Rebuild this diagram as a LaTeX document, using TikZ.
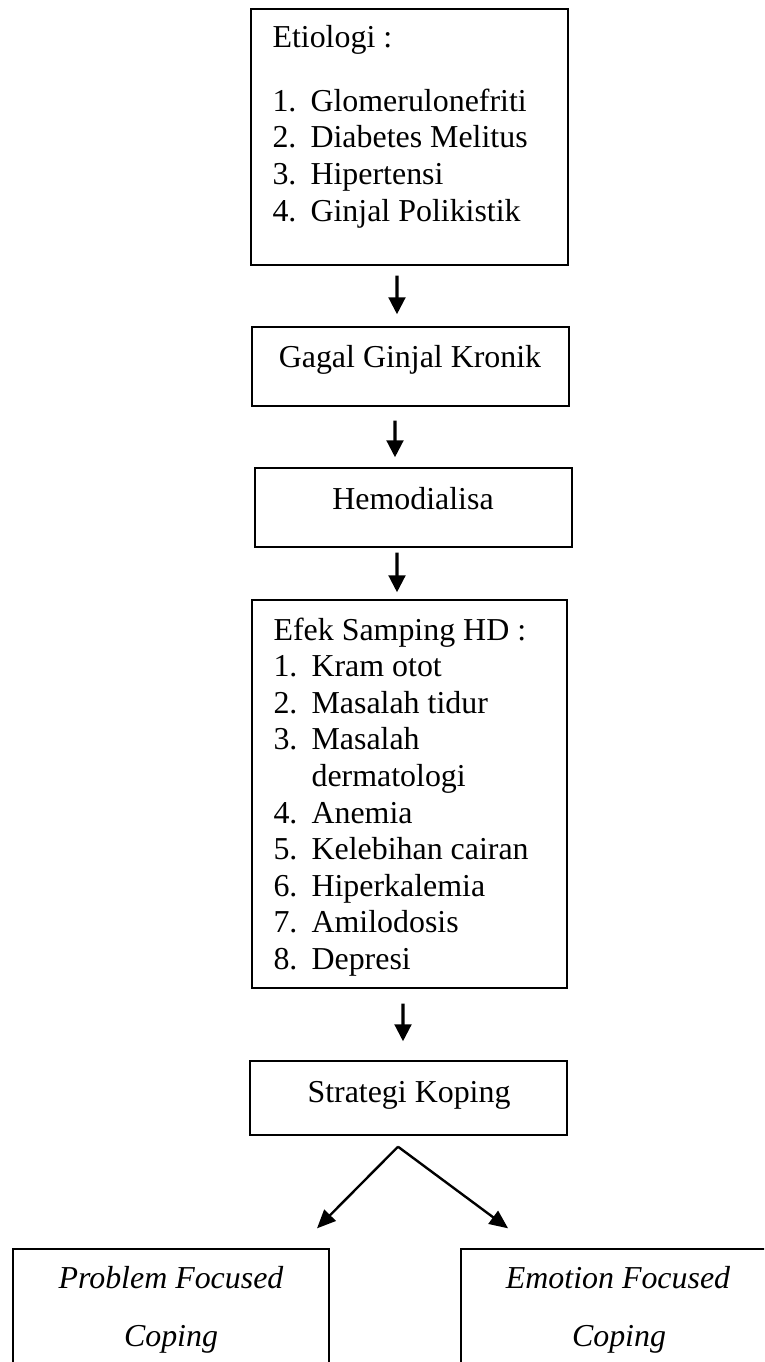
\documentclass[tikz,border=0pt]{standalone}
\usepackage{fontspec}
\setmainfont{Liberation Serif}
\usetikzlibrary{arrows.meta,fit}
\newcommand\itm[2]{\makebox[14.3pt][l]{#1}#2}
\begin{document}
\begin{tikzpicture}[x=0.376pt,y=-0.376pt,
  box/.style={draw,line width=0.5pt,inner sep=0pt},
  txt/.style={inner sep=0pt,font=\fontsize{12}{13.8}\selectfont},
  ltxt/.style={txt,anchor=base west},
  ctxt/.style={txt,anchor=base},
  varr/.style={line width=1.3pt,-{Triangle[length=6.4pt,width=6.2pt]}},
  darr/.style={line width=0.9pt,-{Triangle[length=7pt,width=6pt]}}]
\useasboundingbox (0,0) rectangle (764,1362);
\clip (0,0) rectangle (764,1362);
% boxes
\node[box,fit={(251,9) (568,265)}] (e) {};
\node[box,fit={(252,327) (569,406)}] (g) {};
\node[box,fit={(255,468) (572,547)}] (h) {};
\node[box,fit={(252,600) (567,988)}] (f) {};
\node[box,fit={(250,1061) (567,1135)}] (s) {};
\node[box,fit={(13,1249) (329,1400)}] (p) {};
\node[box,fit={(461,1249) (777,1400)}] (m) {};
% Etiologi text
\node[ltxt] (e0) at (272,47) {Etiologi :};
\node[ltxt] (e1) at (272,111) {\itm{1.}{Glomerulonefriti}};
\node[ltxt] (e2) at (272,147.8) {\itm{2.}{Diabetes Melitus}};
\node[ltxt] (e3) at (272,184.6) {\itm{3.}{Hipertensi}};
\node[ltxt] (e4) at (272,221.4) {\itm{4.}{Ginjal Polikistik}};
% single-line boxes
\node[ctxt] (gt) at (410,367) {Gagal Ginjal Kronik};
\node[ctxt] (ht) at (413,509) {Hemodialisa};
\node[ctxt] (st) at (409,1102) {Strategi Koping};
% Efek samping text
\node[ltxt] (f0) at (273,640) {Efek Samping HD :};
\node[ltxt] (f1) at (273,676.6) {\itm{1.}{Kram otot}};
\node[ltxt] (f2) at (273,713.2) {\itm{2.}{Masalah tidur}};
\node[ltxt] (f3) at (273,749.8) {\itm{3.}{Masalah}};
\node[ltxt] (f3b) at (273,786.4) {\itm{}{dermatologi}};
\node[ltxt] (f4) at (273,823) {\itm{4.}{Anemia}};
\node[ltxt] (f5) at (273,859.6) {\itm{5.}{Kelebihan cairan}};
\node[ltxt] (f6) at (273,896.2) {\itm{6.}{Hiperkalemia}};
\node[ltxt] (f7) at (273,932.8) {\itm{7.}{Amilodosis}};
\node[ltxt] (f8) at (273,969.4) {\itm{8.}{Depresi}};
% bottom boxes text
\node[ctxt] (p1) at (171,1288) {\itshape Problem Focused};
\node[ctxt] (p2) at (171,1346) {\itshape Coping};
\node[ctxt] (m1) at (618,1288) {\itshape Emotion Focused};
\node[ctxt] (m2) at (619,1346) {\itshape Coping};
% arrows
\draw[varr] ([xshift=-4.7pt,yshift=-3.76pt]e.south) -- ([xshift=-5.08pt,yshift=4.51pt]g.north);
\draw[varr] ([xshift=-5.83pt,yshift=-5.26pt]g.south) -- ([xshift=-6.96pt,yshift=3.76pt]h.north);
\draw[varr] ([xshift=-6.2pt,yshift=-1.88pt]h.south) -- ([xshift=-4.7pt,yshift=2.63pt]f.north);
\draw[varr] ([xshift=-2.44pt,yshift=-5.64pt]f.south) -- ([xshift=-2.07pt,yshift=7.14pt]s.north);
\coordinate (split) at ([xshift=-3.95pt,yshift=-4.14pt]s.south);
\draw[darr] (split) -- ([xshift=54.9pt,yshift=7.52pt]p.north);
\draw[darr] (split) -- ([xshift=-41.7pt,yshift=7.52pt]m.north);
\end{tikzpicture}
\end{document}
